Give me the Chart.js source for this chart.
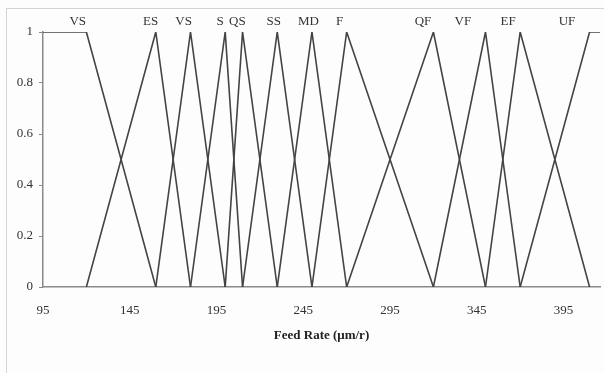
<!DOCTYPE html>
<html lang="en">
<head>
    <meta charset="UTF-8">
    <title>Feed Rate membership functions</title>
    <script src="https://cdn.jsdelivr.net/npm/chart.js"></script>
    <style>
        html, body { margin: 0; padding: 0; background: #fdfdfd; }
        .frame { position: absolute; left: 6px; top: 8px; width: 620px; height: 400px;
                 border-left: 1px solid #d4d4d4; border-top: 1px solid #d4d4d4; }
        .chart-container { position: absolute; left: 0; top: 0; width: 604px; height: 373px; }
    </style>
</head>
<body>
    <div class="frame"></div>
    <div class="chart-container">
        <canvas id="mfChart"></canvas>
    </div>

    <script>
        // membership function corners [feed rate, degree]
        var vsPts  = [[95, 1], [120, 1], [160, 0]];
        var esPts  = [[120, 0], [160, 1], [180, 0]];
        var vs2Pts = [[160, 0], [180, 1], [200, 0]];
        var sPts   = [[180, 0], [200, 1], [210, 0]];
        var qsPts  = [[200, 0], [210, 1], [230, 0]];
        var ssPts  = [[210, 0], [230, 1], [250, 0]];
        var mdPts  = [[230, 0], [250, 1], [270, 0]];
        var fPts   = [[250, 0], [270, 1], [320, 0]];
        var qfPts  = [[270, 0], [320, 1], [350, 0]];
        var vfPts  = [[320, 0], [350, 1], [370, 0]];
        var efPts  = [[350, 0], [370, 1], [410, 0]];
        var ufPts  = [[370, 0], [410, 1], [416, 1]];

        var termNames = ['VS', 'ES', 'VS', 'S', 'QS', 'SS', 'MD', 'F', 'QF', 'VF', 'EF', 'UF'];
        var termLabelX = [115, 157, 176, 197, 207, 228, 248, 266, 314, 337, 363, 397];

        var xTicks = [95, 145, 195, 245, 295, 345, 395];
        var yTicks = [0, 0.2, 0.4, 0.6, 0.8, 1];

        var allPts = [vsPts, esPts, vs2Pts, sPts, qsPts, ssPts, mdPts, fPts, qfPts, vfPts, efPts, ufPts];

        var datasets = allPts.map(function(pts, i) {
            return {
                label: termNames[i],
                data: pts.map(function(p) { return { x: p[0], y: p[1] }; }),
                borderColor: '#444444',
                borderWidth: 1.6,
                pointRadius: 0,
                fill: false,
                tension: 0
            };
        });

        var serif = "'Liberation Serif', 'DejaVu Serif', serif";

        // term names above the peaks
        var termLabels = {
            id: 'termLabels',
            afterDatasetsDraw: function(chart) {
                var ctx = chart.ctx;
                var xs = chart.scales.x;
                ctx.save();
                ctx.font = '13px ' + serif;
                ctx.fillStyle = '#333333';
                ctx.textAlign = 'center';
                ctx.textBaseline = 'middle';
                termNames.forEach(function(name, i) {
                    ctx.fillText(name, xs.getPixelForValue(termLabelX[i]), chart.chartArea.top - 10);
                });
                ctx.restore();
            }
        };

        new Chart(document.getElementById('mfChart').getContext('2d'), {
            type: 'line',
            data: { datasets: datasets },
            plugins: [termLabels],
            options: {
                responsive: true,
                maintainAspectRatio: false,
                animation: false,
                layout: { padding: { left: 0, right: 4, top: 32, bottom: 26 } },
                plugins: {
                    legend: { display: false },
                    tooltip: { enabled: false }
                },
                scales: {
                    x: {
                        type: 'linear',
                        min: 95,
                        max: 416,
                        afterFit: function(scale) { scale.height = 60; },
                        afterBuildTicks: function(scale) {
                            scale.ticks = xTicks.map(function(v) { return { value: v }; });
                        },
                        grid: { display: false },
                        border: { display: true, color: '#8a8a8a', width: 1.5 },
                        ticks: {
                            color: '#333333',
                            padding: 8,
                            maxRotation: 0,
                            font: { family: serif, size: 13 }
                        },
                        title: {
                            display: true,
                            text: 'Feed Rate (μm/r)',
                            color: '#222222',
                            padding: { top: 14 },
                            font: { family: serif, size: 13, weight: 'bold' }
                        }
                    },
                    y: {
                        min: 0,
                        max: 1,
                        afterFit: function(scale) { scale.width = 43; },
                        afterBuildTicks: function(scale) {
                            scale.ticks = yTicks.map(function(v) { return { value: v }; });
                        },
                        grid: {
                            display: true,
                            drawOnChartArea: false,
                            drawTicks: true,
                            tickLength: 4,
                            color: '#8a8a8a'
                        },
                        border: { display: true, color: '#8a8a8a', width: 1.5 },
                        ticks: {
                            color: '#333333',
                            padding: 6,
                            font: { family: serif, size: 13 },
                            callback: function(v) { return String(Math.round(v * 10) / 10); }
                        }
                    }
                }
            }
        });
    </script>
</body>
</html>
